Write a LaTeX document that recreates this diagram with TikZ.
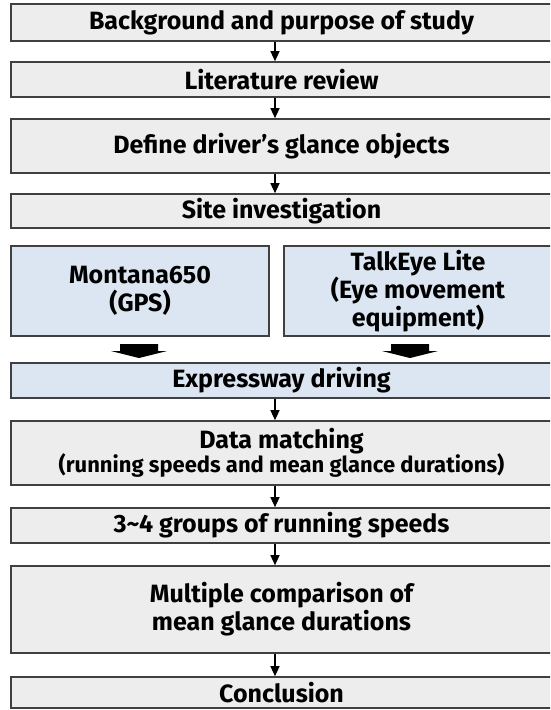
\documentclass[tikz,border=0pt]{standalone}
\usepackage{fontspec}
\setmainfont{Fira Sans}
\usetikzlibrary{arrows.meta}
\definecolor{boxgray}{HTML}{EDEDED}
\definecolor{boxblue}{HTML}{DCE6F2}
\definecolor{edge}{HTML}{404040}
\tikzset{
  x=1pt, y=-1pt,
  stepbox/.style={draw=edge, line width=1.6pt, fill=boxgray, inner sep=0pt,
    align=center, font=\bfseries\fontsize{25}{28}\selectfont},
  devbox/.style={stepbox, fill=boxblue},
  flow/.style={line width=1.2pt, -{Triangle[width=9pt,length=10pt]}},
  bigarrow/.style={fill=black, draw=none}
}
\begin{document}
\begin{tikzpicture}
\useasboundingbox (0,0) rectangle (550,710);
\clip (0,0) rectangle (550,710);
% main column of steps
\node[stepbox, minimum width=541pt, minimum height=37pt] (bg)   at (281.5,22.5) {Background and purpose of study};
\node[stepbox, minimum width=541pt, minimum height=35pt] (lit)  at (281.5,79.5) {Literature review};
\node[stepbox, minimum width=541pt, minimum height=54pt] (def)  at (281.5,146)  {Define driver’s glance objects};
\node[stepbox, minimum width=541pt, minimum height=34pt] (site) at (281.5,211)  {Site investigation};
% equipment
\node[devbox, minimum width=258pt, minimum height=90pt] (gps) at (140,291) {Montana650\\(GPS)};
\node[devbox, minimum width=268pt, minimum height=90pt] (eye) at (418,291) {TalkEye Lite\\(Eye movement\\equipment)};
\node[devbox, minimum width=541pt, minimum height=35pt] (drive) at (281.5,380.5) {Expressway driving};
\node[stepbox, minimum width=541pt, minimum height=64pt] (match) at (281.5,453)
  {Data matching\\[-4pt]{\fontsize{22}{24}\selectfont(running speeds and mean glance durations)}};
\node[stepbox, minimum width=541pt, minimum height=35pt] (grp)  at (281.5,525.5) {3\textasciitilde 4 groups of running speeds};
\node[stepbox, minimum width=541pt, minimum height=87pt] (mult) at (281.5,609.5) {Multiple comparison of\\mean glance durations};
\node[stepbox, minimum width=541pt, minimum height=31pt] (conc) at (281.5,692.5) {Conclusion};
% connectors
\coordinate (ax) at (275,0);
\foreach \a/\b in {bg/lit, lit/def, def/site, drive/match, match/grp, grp/mult, mult/conc}
  \draw[flow] (\a.south -| ax) -- (\b.north -| ax);
% block arrows from the equipment into the driving step
\foreach \n/\cx in {gps/139, eye/410}{
  \fill[bigarrow] (\cx-19,344) -- (\cx+19,344) -- (\cx+19,351) -- (\cx+28,351)
    -- (\cx,358) -- (\cx-28,351) -- (\cx-19,351) -- cycle;
}
\end{tikzpicture}
\end{document}
